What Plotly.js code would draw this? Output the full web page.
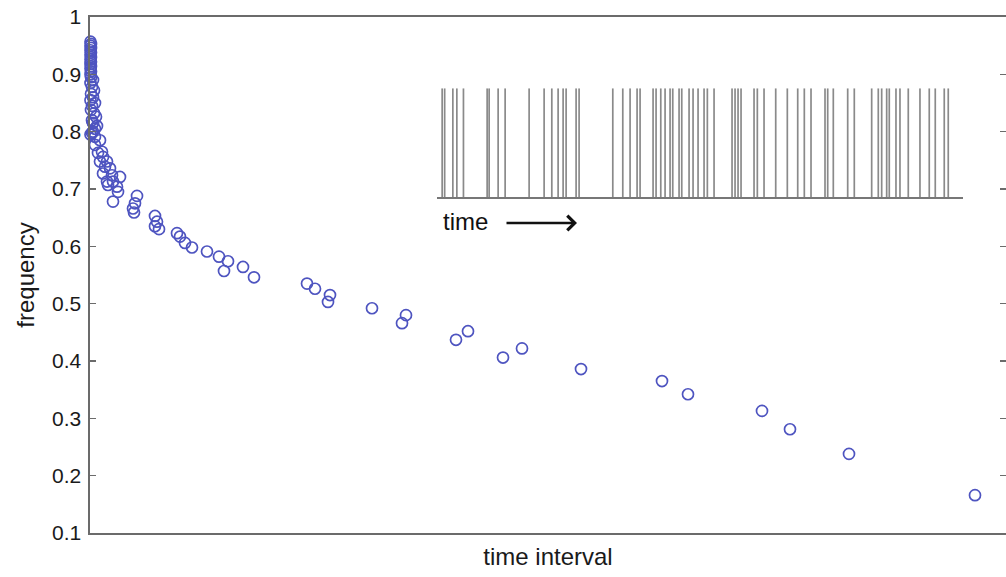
<!DOCTYPE html>
<html>
<head>
<meta charset="utf-8">
<script src="https://cdn.plot.ly/plotly-3.0.1.min.js"></script>
<style>html,body{margin:0;padding:0;background:#fff;}#chart{width:1006px;height:577px;}</style>
</head>
<body>
<div id="chart"></div>
<script>
// time interval (arbitrary units) and frequency of each point
const intervals = [
  0.5, 1, 0.5, 1, 0.5, 1, 0.5, 1, 0.5, 1, 0.5, 1, 0.5, 1, 0.5,
  1, 3, 0.5, 2, 4, 1, 3, 0.5, 5, 2, 1, 4, 6, 2, 3, 7, 5, 0.5, 3,
  3, 2, 5, 10, 5, 12, 8, 13, 10, 17, 15, 20, 13, 22, 17, 30, 23, 27, 18, 28, 23,
  47, 45, 43, 44, 65, 67, 65, 69, 87, 90, 95, 102, 117, 129, 138, 134, 153, 164,
  217, 225, 240, 238, 282, 316, 312, 366, 378, 413, 432, 491,
  572, 598, 672, 700, 759, 885
];
const frequency = [
  0.957, 0.953, 0.950, 0.946, 0.942, 0.938, 0.934, 0.930, 0.926, 0.922, 0.918, 0.914, 0.910, 0.905, 0.900,
  0.895, 0.890, 0.885, 0.878, 0.872, 0.866, 0.860, 0.855, 0.850, 0.845, 0.838, 0.832, 0.826, 0.820, 0.815, 0.810, 0.805, 0.795, 0.800,
  0.815, 0.798, 0.791, 0.785, 0.777, 0.765, 0.763, 0.756, 0.748, 0.748, 0.739, 0.736, 0.727, 0.724, 0.713, 0.721, 0.713, 0.704, 0.707, 0.695, 0.678,
  0.688, 0.675, 0.666, 0.659, 0.653, 0.643, 0.635, 0.630, 0.623, 0.617, 0.606, 0.598, 0.591, 0.582, 0.574, 0.557, 0.564, 0.546,
  0.535, 0.526, 0.515, 0.503, 0.492, 0.480, 0.466, 0.437, 0.452, 0.406, 0.422, 0.386,
  0.365, 0.342, 0.313, 0.281, 0.238, 0.166
];
const yTicks = [0.1, 0.2, 0.3, 0.4, 0.5, 0.6, 0.7, 0.8, 0.9, 1];
const yTickLabels = ['0.1', '0.2', '0.3', '0.4', '0.5', '0.6', '0.7', '0.8', '0.9', '1'];

// spike train shown in the inset (arbitrary time units)
const spikeTimes = [
  5, 7.5, 15.7, 19.7, 26.3, 50, 52, 61, 68, 92, 107, 114.7, 121, 126, 129, 139, 142,
  175.7, 185.7, 193, 200, 203, 216, 219, 223.7, 228, 233, 235.7, 242, 244.7, 252, 256, 261,
  267, 270.3, 277, 295, 298, 301, 304, 317, 320.3, 327, 338.7, 350.3, 360.7, 367.3, 374,
  388, 390.7, 396.3, 410.7, 417.3, 434.7, 441.3, 444.7, 449.7, 452.3, 459, 463, 471.3,
  483, 492.3, 498.3, 507.3, 511.3
];

const spikeX = [], spikeY = [];
spikeTimes.forEach(t => { spikeX.push(t, t, null); spikeY.push(0, 1, null); });

const FONT = '"Liberation Sans", Arial, Helvetica, sans-serif';
const AXC = '#6b6b6b';

const traces = [
  {
    type: 'scatter', mode: 'markers',
    x: intervals, y: frequency,
    xaxis: 'x', yaxis: 'y',
    cliponaxis: false,
    marker: { symbol: 'circle-open', size: 11, color: 'rgb(78,84,192)', line: { width: 1.7, color: 'rgb(78,84,192)' } },
    hoverinfo: 'x+y', showlegend: false
  },
  {
    type: 'scatter', mode: 'lines',
    x: spikeX, y: spikeY,
    xaxis: 'x2', yaxis: 'y2',
    connectgaps: false,
    line: { color: 'rgba(60,60,60,0.6)', width: 1.7 },
    hoverinfo: 'skip', showlegend: false
  }
];

const layout = {
  width: 1006, height: 577,
  margin: { l: 90, r: 0, t: 17, b: 44 },
  paper_bgcolor: '#ffffff', plot_bgcolor: '#ffffff',
  font: { family: FONT, color: '#1a1a1a', size: 21 },
  showlegend: false,
  xaxis: {
    range: [0, 916], showgrid: false, zeroline: false,
    showticklabels: false, ticks: '',
    showline: true, linecolor: AXC, linewidth: 1.6, mirror: true,
    title: { text: 'time interval', font: { family: FONT, size: 24, color: '#1a1a1a' }, standoff: 14 }
  },
  yaxis: {
    range: [0.1, 1], showgrid: false, zeroline: false,
    tickmode: 'array', tickvals: yTicks, ticktext: yTickLabels,
    ticks: 'inside', ticklen: 6, tickwidth: 1.4, tickcolor: AXC,
    showline: true, linecolor: AXC, linewidth: 1.6, mirror: 'ticks',
    tickfont: { family: FONT, size: 21, color: '#1a1a1a' },
    ticklabelstandoff: 3,
    title: { text: 'frequency', font: { family: FONT, size: 24, color: '#1a1a1a' }, standoff: 10 }
  },
  xaxis2: {
    domain: [0.379, 0.953], anchor: 'y2', range: [0, 526],
    showgrid: false, zeroline: false, showticklabels: false, ticks: '',
    showline: true, linecolor: '#777', linewidth: 1.5
  },
  yaxis2: {
    domain: [0.651, 0.862], anchor: 'x2', range: [0, 1],
    showgrid: false, zeroline: false, showticklabels: false, ticks: '', showline: false
  },
  annotations: [
    {
      xref: 'paper', yref: 'paper', x: (441 - 90) / 916, y: (533 - 221) / 516,
      xanchor: 'left', yanchor: 'middle', showarrow: false,
      text: 'time', font: { family: FONT, size: 24, color: '#111' }
    },
    {
      xref: 'paper', yref: 'paper', x: (577 - 90) / 916, y: (533 - 223) / 516,
      ax: -72, ay: 0, text: '', showarrow: true,
      arrowhead: 4, arrowsize: 1.1, arrowwidth: 2.6, arrowcolor: '#111'
    }
  ]
};

Plotly.newPlot('chart', traces, layout, { displayModeBar: false, staticPlot: true });
</script>
</body>
</html>
